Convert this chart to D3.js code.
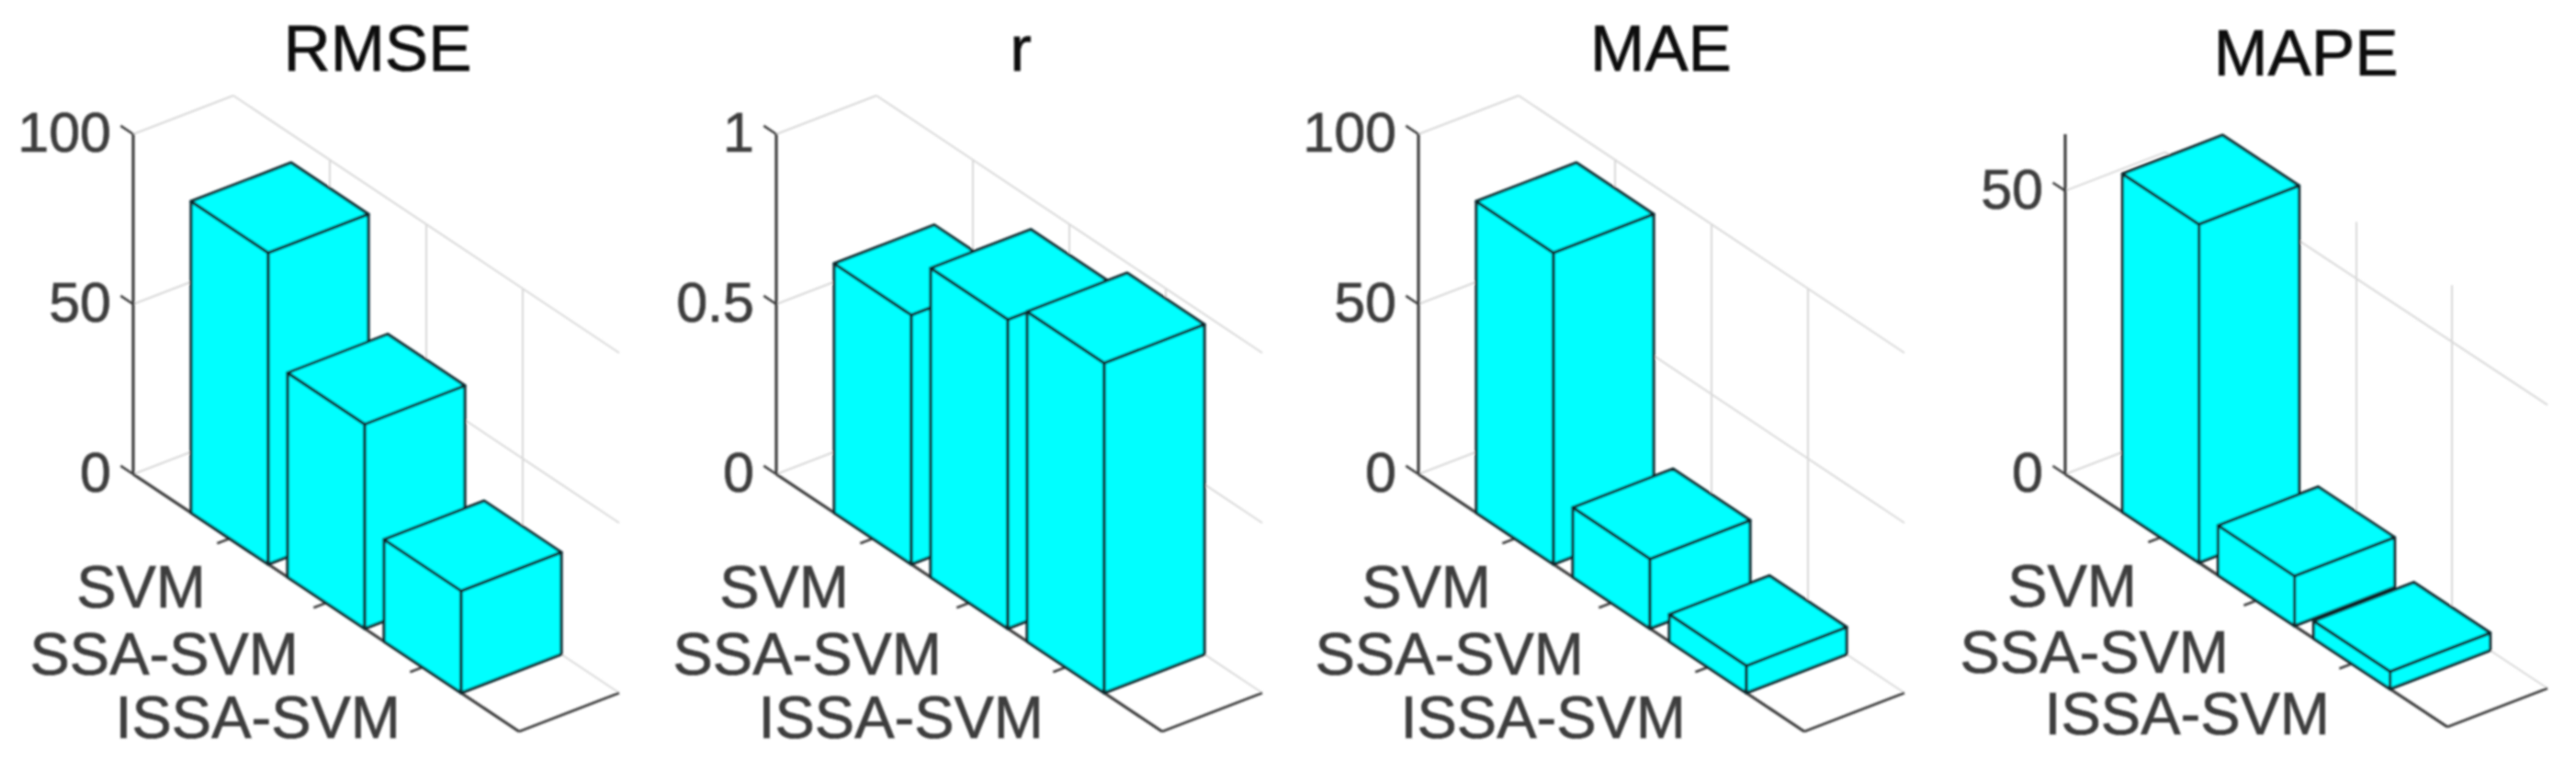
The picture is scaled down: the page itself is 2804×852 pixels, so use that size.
<!DOCTYPE html>
<html>
<head>
<meta charset="utf-8">
<script src="https://cdn.jsdelivr.net/npm/d3@7"></script>
<style>
    html, body { margin: 0; padding: 0; background: #fff; }
    svg { display: block; }
    text { font-family: "Liberation Sans", Arial, sans-serif; }
</style>
</head>
<body>
<div class="chart"></div>
<script>
const width = 2804;
const height = 852;

// values
const categories = ["SVM", "SSA-SVM", "ISSA-SVM"];
const metrics = ["RMSE", "r", "MAE", "MAPE"];
const rmseValues = [91.6, 60.1, 30];
const rValues = [0.733, 0.909, 0.97];
const maeValues = [91.6, 20.5, 8];
const mapeValues = [59.7, 8.8, 3.1];
const rmseTicks = [0, 50, 100];
const rTicks = [0, 0.5, 1];
const maeTicks = [0, 50, 100];
const mapeTicks = [0, 50];
const zMax = [100, 1, 100, 60];
const allValues = [rmseValues, rValues, maeValues, mapeValues];
const allTicks = [rmseTicks, rTicks, maeTicks, mapeTicks];
const xTicks = [1, 2, 3];

// layout of the four panels
const panelLeft = [0, 700, 1399, 2103];
const alongX = [420, 420, 420, 416];
const alongY = [280, 280, 280, 275];
const titleX = [411, 411, 409, 407];
const titleY = [77, 77, 77, 82];
const labelDx = [-26, -30, -24];
const labelDy = [75, 78, 77];
const depthX = 109;
const depthY = -42;
const originX = 145;
const originY = 516;
const zHeight = 370;
const barWidth = 0.8;

const axisColor = "#3c3c3c";
const gridColor = "#d8d8d8";
const barColor = "#00ffff";
const edgeColor = "#082a2f";

const svg = d3
    .select(".chart")
    .append("svg")
    .attr("width", width)
    .attr("height", height);

// the source is a soft raster, so everything gets a small blur
svg.append("defs")
    .append("filter")
    .attr("id", "soft")
    .append("feGaussianBlur")
    .attr("stdDeviation", 0.9);

const root = svg.append("g").attr("filter", "url(#soft)");

metrics.forEach((metric, p) => drawPanel(metric, p));

function drawPanel(metric, p) {
    const g = root
        .append("g")
        .attr("transform", `translate(${panelLeft[p]},0)`);

    // bar3 axes: categories along x, one row of depth along y, value up z
    const xScale = d3.scaleLinear().domain([0, 4]).range([0, 1]);
    const yScale = d3.scaleLinear().domain([0.6, 1.4]).range([0, 1]);
    const zScale = d3.scaleLinear().domain([0, zMax[p]]).range([0, zHeight]);

    const project = (x, y, z) => [
        originX + xScale(x) * alongX[p] + yScale(y) * depthX,
        originY + xScale(x) * alongY[p] + yScale(y) * depthY - zScale(z),
    ];
    const line = (a, b, color, w) => {
        g.append("line")
            .attr("x1", a[0])
            .attr("y1", a[1])
            .attr("x2", b[0])
            .attr("y2", b[1])
            .attr("stroke", color)
            .attr("stroke-width", w);
    };

    // walls
    allTicks[p].forEach((t) => {
        line(project(0, 0.6, t), project(0, 1.4, t), gridColor, 2);
        line(project(0, 1.4, t), project(4, 1.4, t), gridColor, 2);
    });
    xTicks.forEach((t) => {
        line(project(t, 1.4, 0), project(t, 1.4, zMax[p]), gridColor, 2);
        line(project(t, 0.6, 0), project(t, 1.4, 0), gridColor, 2);
    });

    // axes
    line(project(0, 0.6, 0), project(0, 0.6, zMax[p]), axisColor, 3.2);
    line(project(0, 0.6, 0), project(4, 0.6, 0), axisColor, 3.2);
    line(project(4, 0.6, 0), project(4, 1.4, 0), axisColor, 2.8);

    allTicks[p].forEach((t) => {
        line(project(-0.13, 0.6, t), project(0, 0.6, t), axisColor, 2.5);
    });
    xTicks.forEach((t) => {
        line(project(t, 0.6, 0), project(t, 0.5, 0), axisColor, 2.5);
    });

    g.selectAll(".ztick")
        .data(allTicks[p])
        .enter()
        .append("text")
        .attr("class", "ztick")
        .attr("x", originX - 24)
        .attr("y", (d) => project(0, 0.6, d)[1] + 19)
        .attr("text-anchor", "end")
        .attr("font-size", 61)
        .attr("fill", "#3c3c3c")
        .attr("stroke", "#3c3c3c")
        .attr("stroke-width", 0.7)
        .text((d) => d);

    g.selectAll(".xtick")
        .data(categories)
        .enter()
        .append("text")
        .attr("class", "xtick")
        .attr("x", (d, i) => project(xTicks[i], 0.6, 0)[0] + labelDx[i])
        .attr("y", (d, i) => project(xTicks[i], 0.6, 0)[1] + labelDy[i])
        .attr("text-anchor", "end")
        .attr("font-size", 65)
        .attr("fill", "#3c3c3c")
        .attr("stroke", "#3c3c3c")
        .attr("stroke-width", 0.7)
        .text((d) => d);

    g.append("text")
        .attr("x", titleX[p])
        .attr("y", titleY[p])
        .attr("text-anchor", "middle")
        .attr("font-size", 71)
        .attr("fill", "#0c0c0c")
        .attr("stroke", "#0c0c0c")
        .attr("stroke-width", 0.7)
        .text(metric);

    // bars, left to right so the later ones cover the earlier ones
    const half = barWidth / 2;
    const toPath = (pts) => "M" + pts.map((d) => d.join(",")).join("L") + "Z";

    allValues[p].forEach((v, i) => {
        const x0 = xTicks[i] - half;
        const x1 = xTicks[i] + half;
        const faces = [
            [project(x0, 0.6, 0), project(x1, 0.6, 0), project(x1, 0.6, v), project(x0, 0.6, v)],
            [project(x1, 0.6, 0), project(x1, 1.4, 0), project(x1, 1.4, v), project(x1, 0.6, v)],
            [project(x0, 0.6, v), project(x1, 0.6, v), project(x1, 1.4, v), project(x0, 1.4, v)],
        ];
        g.append("g")
            .selectAll("path")
            .data(faces)
            .enter()
            .append("path")
            .attr("d", toPath)
            .attr("fill", barColor)
            .attr("stroke", edgeColor)
            .attr("stroke-width", 3.2)
            .attr("stroke-linejoin", "round");
    });
}
</script>
</body>
</html>
